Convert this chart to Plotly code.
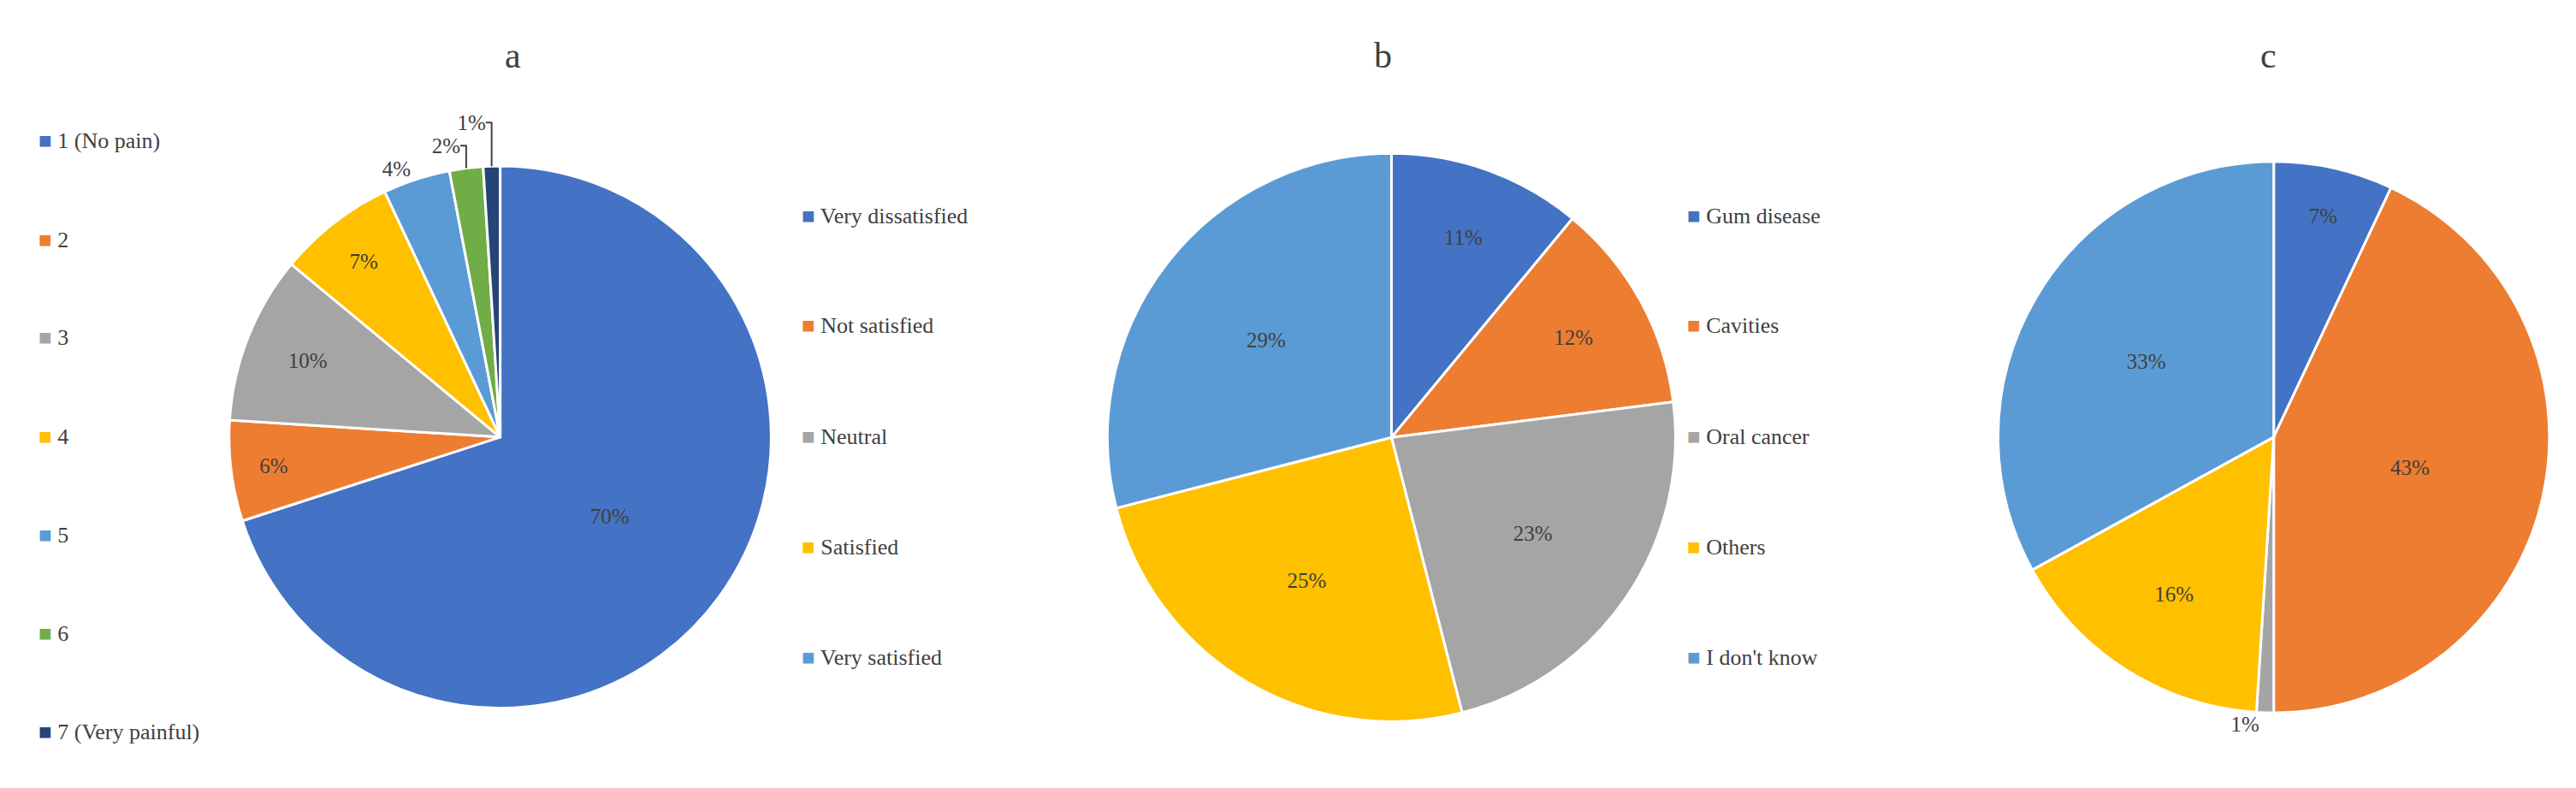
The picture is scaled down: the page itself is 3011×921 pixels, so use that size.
import plotly.graph_objects as go

a_labels = ["1 (No pain)", "2", "3", "4", "5", "6", "7 (Very painful)"]
a_values = [70, 6, 10, 7, 4, 2, 1]
b_labels = ["Very dissatisfied", "Not satisfied", "Neutral", "Satisfied", "Very satisfied"]
b_values = [11, 12, 23, 25, 29]
c_labels = ["Gum disease", "Cavities", "Oral cancer", "Others", "I don't know"]
c_values = [7, 43, 1, 16, 33]

colors = ["#4472C4", "#ED7D31", "#A5A5A5", "#FFC000", "#5B9BD5", "#70AD47", "#264478"]
FONT = "Liberation Serif"
W, H = 3011, 921

fig = go.Figure()
pies = [
    (a_labels, a_values, [0.086, 0.297], [0.110, 0.798],
     ["inside"] * 4 + ["outside"] * 3),
    (b_labels, b_values, [0.427, 0.648], [0.093, 0.814], ["inside"] * 5),
    (c_labels, c_values, [0.773, 0.987], [0.103, 0.805],
     ["inside", "inside", "outside", "inside", "inside"]),
]
for labels, values, dx, dy, tp in pies:
    fig.add_trace(go.Pie(
        labels=labels, values=values, sort=False, direction="clockwise",
        rotation=0, domain=dict(x=dx, y=dy),
        marker=dict(colors=colors[:len(values)], line=dict(color="white", width=3)),
        texttemplate="%{value}%", textposition=tp, insidetextorientation="horizontal",
        textfont=dict(family=FONT, size=25, color="#404040"),
        outsidetextfont=dict(family=FONT, size=25, color="#404040"),
        showlegend=False, automargin=False,
    ))

# legends drawn as annotations
legends = [
    (a_labels, 35, 157, 115),
    (b_labels, 927, 244, 129),
    (c_labels, 1962, 244, 129),
]
for labels, x0, y0, step in legends:
    for i, lab in enumerate(labels):
        y = 1 - (y0 + i * step) / H
        fig.add_annotation(x=x0 / W, y=y, xref="paper", yref="paper", xanchor="left",
                           yanchor="middle", showarrow=False,
                           text=f"<span style='color:{colors[i]}'>■</span> {lab}",
                           font=dict(family=FONT, size=26, color="#404040"))

for t, x in [("a", 580), ("b", 1609), ("c", 2655)]:
    fig.add_annotation(x=x / W, y=1 - 32 / H, xref="paper", yref="paper", showarrow=False,
                       text=t, font=dict(family=FONT, size=42, color="#404040"))

fig.update_layout(width=W, height=H, margin=dict(l=0, r=0, t=0, b=0),
                  paper_bgcolor="white", plot_bgcolor="white")
fig.write_html("out.html")
